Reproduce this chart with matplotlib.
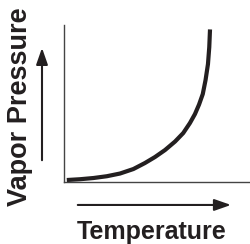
import matplotlib
matplotlib.use("Agg")
import matplotlib.pyplot as plt

# Curve (relative temperature, relative vapor pressure)
temperature = [1.5, 8.6, 15.8, 23.0, 30.1, 37.3, 43.5, 48.9, 54.3, 59.7, 64.1,
               67.7, 70.4, 72.6, 74.6, 76.1, 77.4, 78.1, 78.5]
pressure = [1.27, 1.78, 2.55, 3.69, 5.41, 8.28, 12.10, 15.92, 20.38, 25.80, 31.21,
            37.58, 43.31, 49.36, 56.05, 64.97, 75.16, 85.99, 97.26]
xlabel = "Temperature"
ylabel = "Vapor Pressure"

plt.rcParams['font.family'] = ['Liberation Sans', 'DejaVu Sans']

fig = plt.figure(figsize=(2.5, 2.44), dpi=100)
ax = fig.add_axes([0.256, 0.254, 0.744, 0.643])
ax.plot(temperature, pressure, color='#231f20', lw=3.0, solid_capstyle='butt',
        solid_joinstyle='round')
ax.set_xlim(0, 100)
ax.set_ylim(0, 100)
for s in ['top', 'right']:
    ax.spines[s].set_visible(False)
for s in ['left', 'bottom']:
    ax.spines[s].set_color('#444444')
    ax.spines[s].set_linewidth(1.0)
ax.set_xticks([])
ax.set_yticks([])

arrow = dict(arrowstyle='-|>,head_length=1.0,head_width=0.35', color='#231f20', lw=1.5)
ax.annotate('', xy=(0.168, 0.815), xytext=(0.168, 0.332), xycoords='figure fraction',
            textcoords='figure fraction', arrowprops=arrow)
ax.annotate('', xy=(0.935, 0.16), xytext=(0.3, 0.16), xycoords='figure fraction',
            textcoords='figure fraction', arrowprops=arrow)

fig.text(0.082, 0.5635, ylabel, rotation=90, ha='center', va='center',
         fontsize=19.5, fontweight='bold', color='#231f20')
fig.text(0.606, 0.05, xlabel, ha='center', va='center',
         fontsize=18, fontweight='bold', color='#231f20')

fig.savefig('out.png', dpi=100)
